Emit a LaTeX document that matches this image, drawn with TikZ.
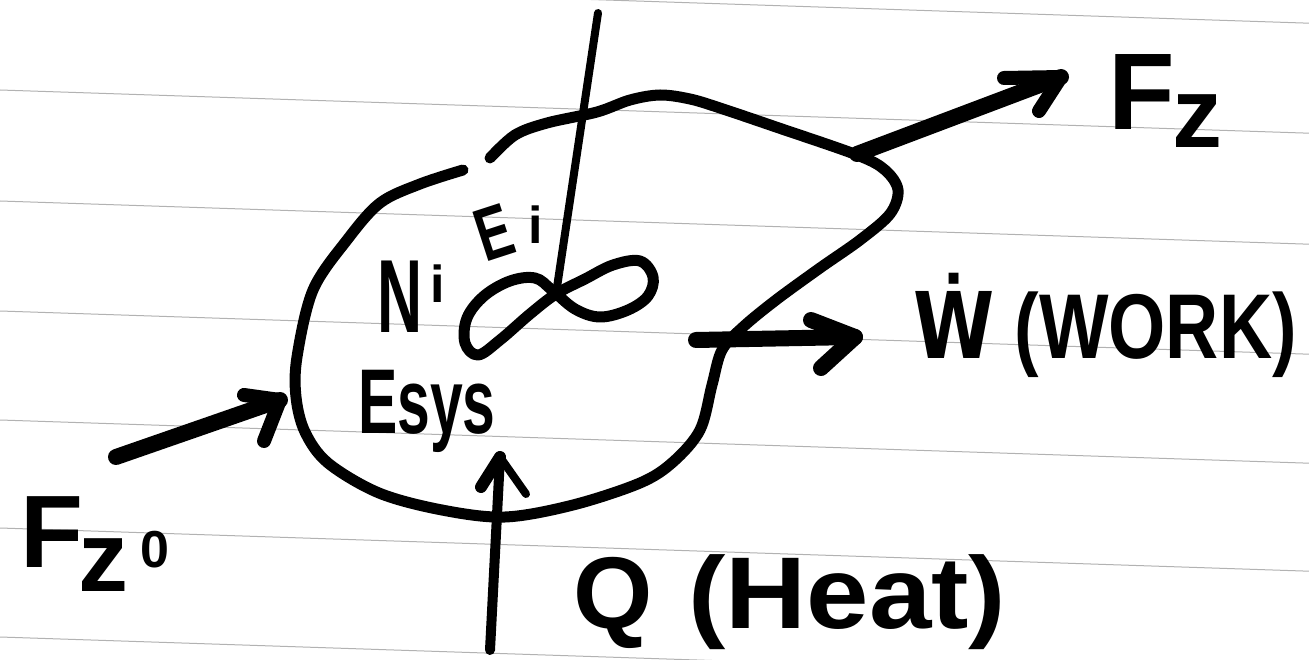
\documentclass[tikz,border=0pt]{standalone}
\usepackage{fontspec}
\setmainfont{Liberation Sans}
\newfontfamily\accfont{DejaVu Sans}
\begin{document}
\begin{tikzpicture}[x=1pt,y=-1pt,
  ink/.style={draw=black,line cap=round,line join=round},
  rule/.style={draw=black!30,line width=1pt},
  lbl/.style={anchor=base west,inner sep=0pt,outer sep=0pt}]
\useasboundingbox (0,0) rectangle (1309,660);
\fill[white] (0,0) rectangle (1309,660);
\clip (0,0) rectangle (1309,660);

% ruled notebook lines
\foreach \y in {-20,90,201,311,420,528,637}
  \draw[rule] (0,\y) -- (1309,\y+43.2);

% end points of the arrows
\coordinate (fin-tail) at (116,457);
\coordinate (fin-tip)  at (280,400);
\coordinate (fin-b1)   at (244,395);
\coordinate (fin-b2)   at (264,441);
\coordinate (fz-tail)  at (857,154);
\coordinate (fz-tip)   at (1061,77);
\coordinate (fz-b1)    at (1004,78);
\coordinate (fz-b2)    at (1039,111);
\coordinate (w-tail)   at (696,340);
\coordinate (w-tip)    at (855,337);
\coordinate (w-b1)     at (811,320);
\coordinate (w-b2)     at (821,368);
\coordinate (q-tail)   at (490,650);
\coordinate (q-tip)    at (500,457);
\coordinate (q-b1)     at (481,487);
\coordinate (q-b2)     at (526,494);
\coordinate (shaft-top) at (598,13);
\coordinate (cross)     at (556,294);

% system boundary
\draw[ink,line width=11pt] plot[smooth,tension=0.55] coordinates {
  (463,170) (420,184) (380,203) (347,240) (313,290) (297,357) (296,397)
  (305,432) (328,463) (379,493) (442,510) (505,517) (573,505) (640,483)
  (673,462) (700,430) (712,385) (722,350) (743,327) (776,300) (820,268)
  (860,240) (890,214) (898,190) (885,170) (857,155) (776,127) (720,108)
  (690,99) (660,95) (630,100) (597,112) (547,123) (515,135) (490,158)};

% stirrer shaft and its figure-eight paddle
\draw[ink,line width=8pt] (shaft-top) -- (cross);
\draw[ink,line width=11pt] plot[smooth cycle,tension=0.6] coordinates {
  (556,294) (530,314) (500,340) (478,355) (465,343) (467,318) (484,296)
  (510,281) (535,278) (552,290) (575,309) (600,317) (628,310) (648,296)
  (653,277) (640,261) (613,265) (585,279)};

% inflow arrow
\draw[ink,line width=16pt] (fin-tail) -- (fin-tip);
\draw[ink,line width=14pt] (fin-b1) -- (fin-tip) -- (fin-b2);

% outflow arrow
\draw[ink,line width=16pt] (fz-tail) -- (fz-tip);
\draw[ink,line width=14pt] (fz-b1) -- (fz-tip) -- (fz-b2);

% work arrow
\draw[ink,line width=16pt] (w-tail) -- (w-tip);
\draw[ink,line width=16pt] (w-b1) -- (w-tip) -- (w-b2);

% heat arrow
\draw[ink,line width=10pt] (q-tail) -- (q-tip);
\draw[ink,line width=12pt] (q-b1) -- (q-tip);
\draw[ink,line width=8pt] (q-tip) -- (q-b2);

% labels
\node[lbl,font=\fontsize{109}{109}\selectfont\bfseries] (fz) at (1108,130)
  {F\kern-2pt\raisebox{-18pt}{\fontsize{100}{100}\selectfont z}};
\node[lbl,font=\fontsize{103}{103}\selectfont\bfseries] (fzo) at (20,567)
  {F\kern-4pt\raisebox{-24pt}{\fontsize{100}{100}\selectfont z}\kern12pt{\fontsize{52}{52}\selectfont 0}};
\node[lbl,font=\fontsize{104}{104}\selectfont\bfseries] (ni) at (377,333)
  {\scalebox{0.6}[1]{N}\kern8pt\raisebox{30pt}{\fontsize{52}{52}\selectfont i}};
\node[lbl,font=\fontsize{75}{75}\selectfont\bfseries] (ei) at (470,262)
  {\rotatebox{18}{\scalebox{0.7}[1]{E}}\kern9pt\raisebox{18pt}{\fontsize{52}{52}\selectfont i}};
\node[lbl,font=\fontsize{92}{92}\selectfont\bfseries] (esys) at (358,433)
  {\scalebox{0.64}[1]{Esys}};
\node[lbl,font=\fontsize{92}{92}\selectfont\bfseries] (work) at (913,358)
  {\scalebox{0.8}[1]{{\accfont\bfseries Ẇ}\ (WORK)}};
\node[lbl,font=\fontsize{102}{102}\selectfont\bfseries] (heat) at (573,628)
  {Q\hspace{36pt}\scalebox{1.1}[1]{(Heat)}};
\end{tikzpicture}
\end{document}
